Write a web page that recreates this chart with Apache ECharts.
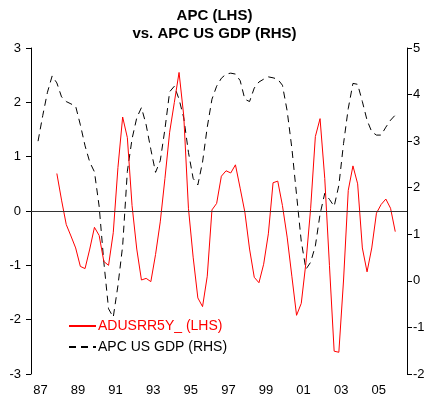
<!DOCTYPE html>
<html>
<head>
<meta charset="utf-8">
<script src="https://cdn.jsdelivr.net/npm/echarts@6/dist/echarts.min.js"></script>
<style>
  html, body { margin: 0; padding: 0; background: #fff; }
  #chart { width: 429px; height: 403px; }
</style>
</head>
<body>
<div id="chart"></div>
<script>
const FIRST_YEAR = 1987;
const LAST_YEAR = 2006;
const YEAR_LABELS = ["87", "88", "89", "90", "91", "92", "93", "94", "95", "96",
                     "97", "98", "99", "00", "01", "02", "03", "04", "05", "06"];

// quarterly, APC US GDP (RHS) starts 1987Q2
const GDP_START_Q = 1;
const gdpApc = [
  3.0, 3.55, 4.05, 4.4, 4.25, 3.95, 3.85, 3.8, 3.75, 3.35,
  2.9, 2.55, 2.34, 1.6, 0.4, -0.6, -0.78, -0.1, 0.75, 2.35,
  3.05, 3.5, 3.72, 3.35, 2.82, 2.33, 2.58, 3.26, 4.06, 4.18,
  3.9, 3.5, 2.76, 2.2, 2.06, 2.55, 3.3, 3.9, 4.18, 4.35,
  4.44, 4.46, 4.44, 4.3, 3.9, 3.85, 4.14, 4.27, 4.33, 4.38,
  4.36, 4.33, 4.2, 3.65, 2.85, 1.85, 0.85, 0.25, 0.4, 0.75,
  1.43, 1.88, 1.75, 1.6, 2.05, 2.95, 3.7, 4.24, 4.22, 3.85,
  3.45, 3.2, 3.13, 3.13, 3.3, 3.45, 3.56,
];

// quarterly, ADUSRR5Y_ (LHS) starts 1988Q2
const RR_START_Q = 5;
const adusrr5y = [
  0.69, 0.2, -0.25, -0.46, -0.68, -1.02, -1.06, -0.7, -0.3, -0.45,
  -0.93, -1.0, -0.4, 0.8, 1.73, 1.35, 0.1, -0.7, -1.27, -1.24,
  -1.3, -0.8, -0.2, 0.6, 1.45, 2.0, 2.55, 1.75, 0.05, -0.85,
  -1.6, -1.76, -1.2, 0.02, 0.14, 0.64, 0.74, 0.7, 0.85, 0.42,
  -0.02, -0.7, -1.22, -1.32, -0.98, -0.42, 0.52, 0.55, 0.1, -0.48,
  -1.2, -1.92, -1.7, -0.95, 0.05, 1.37, 1.7, 0.6, -1.0, -2.58,
  -2.6, -1.27, 0.38, 0.83, 0.5, -0.68, -1.12, -0.68, -0.04, 0.12,
  0.22, 0.05, -0.38,
];

const FONT = "'Liberation Sans', Arial, sans-serif";

const quarters = [];
for (let y = FIRST_YEAR; y <= LAST_YEAR; y++) {
  for (let q = 1; q <= 4; q++) quarters.push(y + "Q" + q);
}

function pad(values, start) {
  const out = new Array(quarters.length).fill(null);
  values.forEach((v, i) => { out[start + i] = v; });
  return out;
}

const chart = echarts.init(document.getElementById("chart"));

chart.setOption({
  animation: false,
  backgroundColor: "#fff",
  title: {
    text: "APC (LHS)\nvs. APC US GDP (RHS)",
    left: "center",
    top: 2,
    textStyle: { fontFamily: FONT, fontSize: 15, fontWeight: "bold", color: "#000", lineHeight: 18 },
  },
  legend: {
    orient: "vertical",
    left: 63,
    top: 314,
    itemWidth: 27,
    itemHeight: 12,
    itemGap: 7,
    itemStyle: { opacity: 0 },
    textStyle: { fontFamily: FONT, fontSize: 14, padding: [0, 0, 0, -3] },
    data: [
      { name: "ADUSRR5Y_ (LHS)", textStyle: { color: "#ff0000" } },
      { name: "APC US GDP (RHS)", textStyle: { color: "#000" } },
    ],
  },
  grid: { left: 31, right: 22, top: 48, bottom: 29 },
  xAxis: [
    {
      type: "category",
      data: YEAR_LABELS,
      boundaryGap: true,
      axisLine: { lineStyle: { color: "#000", width: 1 } },
      axisTick: { interval: 0, length: 5, lineStyle: { color: "#000" } },
      axisLabel: { interval: 1, color: "#000", fontFamily: FONT, fontSize: 13, margin: 10 },
      splitLine: { show: false },
    },
    {
      type: "category",
      data: quarters,
      boundaryGap: true,
      show: false,
    },
  ],
  yAxis: [
    {
      type: "value",
      min: -3, max: 3, interval: 1,
      axisLine: { show: true, lineStyle: { color: "#000" } },
      axisTick: { show: true, length: 5, lineStyle: { color: "#000" } },
      axisLabel: { color: "#000", fontFamily: FONT, fontSize: 13, margin: 10 },
      splitLine: { show: false },
    },
    {
      type: "value",
      min: -2, max: 5, interval: 1,
      position: "right",
      axisLine: { show: true, lineStyle: { color: "#000" } },
      axisTick: { show: true, length: 5, lineStyle: { color: "#000" } },
      axisLabel: { color: "#000", fontFamily: FONT, fontSize: 13, margin: 6 },
      splitLine: { show: false },
    },
  ],
  series: [
    {
      name: "ADUSRR5Y_ (LHS)",
      type: "line",
      xAxisIndex: 1,
      yAxisIndex: 0,
      data: pad(adusrr5y, RR_START_Q),
      showSymbol: false,
      symbol: "none",
      lineStyle: { color: "#ff0000", width: 1 },
      itemStyle: { color: "#ff0000" },
      markLine: {
        silent: true,
        symbol: "none",
        label: { show: false },
        lineStyle: { color: "#333", width: 1, type: "solid" },
        data: [{ yAxis: 0 }],
      },
      z: 3,
    },
    {
      name: "APC US GDP (RHS)",
      type: "line",
      xAxisIndex: 1,
      yAxisIndex: 1,
      data: pad(gdpApc, GDP_START_Q),
      showSymbol: false,
      symbol: "none",
      lineStyle: { color: "#000", width: 1, type: [7, 5] },
      itemStyle: { color: "#000" },
      z: 2,
    },
  ],
});
</script>
</body>
</html>
